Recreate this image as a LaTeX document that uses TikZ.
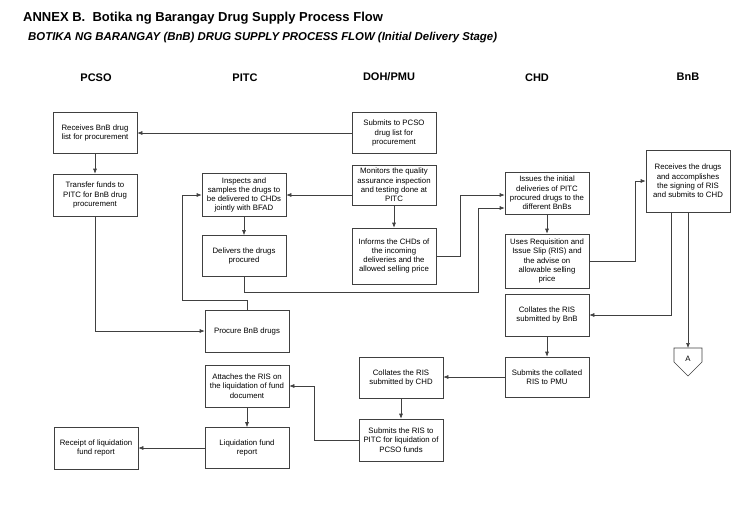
\documentclass[tikz,border=0pt]{standalone}
\usepackage{fontspec}
\setmainfont{Liberation Sans}
\usetikzlibrary{arrows,arrows.meta,calc,positioning}

\begin{document}
\begin{tikzpicture}[x=1pt,y=-1pt,align=center]
\tikzstyle{box}=[draw=black!75,line width=0.6pt,minimum width=84pt,inner sep=1pt,font=\fontsize{7.8}{9.3}\selectfont]
\tikzstyle{head}=[font=\bfseries\fontsize{11}{13}\selectfont]
\tikzstyle{flow}=[-{Latex[length=5pt,width=4pt]},draw=black!75,line width=0.6pt]

\useasboundingbox (0,0) rectangle (753,509);

\node[anchor=west,inner sep=0pt,font=\bfseries\fontsize{13}{15}\selectfont] (title) at (23,18) {ANNEX B.\ \ Botika ng Barangay Drug Supply Process Flow};
\node[anchor=west,inner sep=0pt,font=\bfseries\itshape\fontsize{11.4}{13}\selectfont] (subtitle) at (28,38) {BOTIKA NG BARANGAY (BnB) DRUG SUPPLY PROCESS FLOW (Initial Delivery Stage)};

\node[head] (hpcso) at (96,78) {PCSO};
\node[head] (hpitc) at (245,78) {PITC};
\node[head] (hdoh) at (389,77) {DOH/PMU};
\node[head] (hchd) at (537,78) {CHD};
\node[head] (hbnb) at (688,77) {BnB};

% PCSO
\node[box,minimum height=41pt] (rcv) at (95,133) {Receives BnB drug\\list for procurement};
\node[box,minimum height=42pt] (trf) at (95,195) {Transfer funds to\\PITC for BnB drug\\procurement};
\node[box,minimum height=42pt] (rcpt) at (96,448) {Receipt of liquidation\\fund report};

% PITC
\node[box,minimum height=43pt] (insp) at (244,195) {Inspects and\\samples the drugs to\\be delivered to CHDs\\jointly with BFAD};
\node[box,minimum height=41pt] (dlv) at (244,256) {Delivers the drugs\\procured};
\node[box,minimum height=42pt] (proc) at (247,331) {Procure BnB drugs};
\node[box,minimum height=42pt] (att) at (247,386) {Attaches the RIS on\\the liquidation of fund\\document};
\node[box,minimum height=41pt] (liq) at (247,448) {Liquidation fund\\report};

% DOH/PMU
\node[box,minimum height=41pt] (sub) at (394,133) {Submits to PCSO\\drug list for\\procurement};
\node[box,minimum height=40pt] (mon) at (394,185) {Monitors the quality\\assurance inspection\\and testing done at\\PITC};
\node[box,minimum height=56pt] (inf) at (394,256) {Informs the CHDs of\\the incoming\\deliveries and the\\allowed selling price};
\node[box,minimum height=41pt] (colchd) at (401,378) {Collates the RIS\\submitted by CHD};
\node[box,minimum height=42pt] (subris) at (401,440) {Submits the RIS to\\PITC for liquidation of\\PCSO funds};

% CHD
\node[box,minimum height=42pt] (iss) at (547,193) {Issues the initial\\deliveries of PITC\\procured drugs to the\\different BnBs};
\node[box,minimum height=54pt] (uses) at (547,261) {Uses Requisition and\\Issue Slip (RIS) and\\the advise on\\allowable selling\\price};
\node[box,minimum height=42pt] (colbnb) at (547,315) {Collates the RIS\\submitted by BnB};
\node[box,minimum height=40pt] (subcol) at (547,377) {Submits the collated\\RIS to PMU};

% BnB
\node[box,minimum height=62pt] (bnbrcv) at (688,181) {Receives the drugs\\and accomplishes\\the signing of RIS\\and submits to CHD};
\draw[draw=black!75,line width=0.6pt] (674,348) -- (702,348) -- (702,362) -- (688,376) -- (674,362) -- cycle;
\node[font=\fontsize{7.8}{9.3}\selectfont] (conA) at (688,359) {A};
\coordinate (Atop) at (688,348);

\path
  (rcv) edge [flow] (trf)
  (insp) edge [flow] (dlv)
  (mon) edge [flow] (inf)
  (iss) edge [flow] (uses)
  (colbnb) edge [flow] (subcol)
  (colchd) edge [flow] (subris)
  (att) edge [flow] (liq);

\draw[flow] (sub.west) -- (sub.west -| rcv.east);
\draw[flow] (trf.south) |- (proc.west);
\draw[flow] (mon.west |- insp.east) -- (insp.east);
\draw[flow] (inf.east) -- ++(24,0) |- ($(iss.west)+(0,2)$);
\draw[flow] (dlv.south) -- ++(0,15) -| ($(iss.west)+(-26,15)$) -- ($(iss.west)+(0,15)$);
\draw[flow] (proc.north) -- ++(0,-9) -| ($(insp.west)+(-19,0)$) -- (insp.west);
\draw[flow] (uses.east) -| ($(bnbrcv.west)+(-10,0)$) -- (bnbrcv.west);
\draw[flow] ($(bnbrcv.south)+(-17,0)$) |- (colbnb.east);
\draw[flow] (bnbrcv.south) -- (Atop);
\draw[flow] (subcol.west) -- (subcol.west -| colchd.east);
\draw[flow] (subris.west) -- ++(-44,0) |- (att.east);
\draw[flow] (liq.west) -- (liq.west -| rcpt.east);
\end{tikzpicture}
\end{document}
